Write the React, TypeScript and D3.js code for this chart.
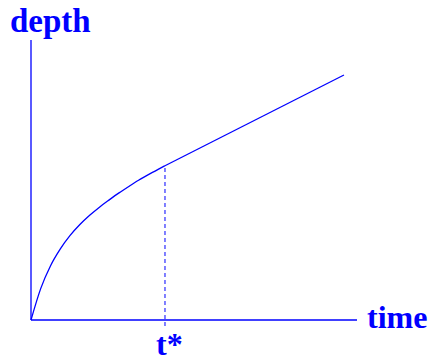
import React from "react";
import * as d3 from "d3";

const curveTime = [0, 0.3, 0.6, 0.9, 1.2, 1.5, 1.8, 2.1, 2.4, 2.7, 3.0, 3.3, 3.6, 3.9, 4.11];
const curveDepth = [0, 1.13, 1.94, 2.54, 3.02, 3.41, 3.74, 4.03, 4.29, 4.54, 4.77, 4.99, 5.19, 5.38, 5.51];
const lineTime = [4.11, 9.6];
const lineDepth = [5.51, 8.75];
const tStar = 4.11;
const tStarDepth = 5.51;
const labels = { x: "time", y: "depth", t: "t*" };

const W = 432, H = 356;
const BLUE = "#0000ff";
const FONT = "'Liberation Serif', 'Times New Roman', serif";

export default function App() {
  const x = d3.scaleLinear().domain([0, 10]).range([31, 357]);
  const y = d3.scaleLinear().domain([0, 10]).range([320, 40]);
  const curvePts: [number, number][] = curveTime.map((t, i) => [t, curveDepth[i]]);
  const linePts: [number, number][] = lineTime.map((t, i) => [t, lineDepth[i]]);
  const gen = d3.line<[number, number]>().x(d => x(d[0])).y(d => y(d[1])).curve(d3.curveMonotoneX);
  const lin = d3.line<[number, number]>().x(d => x(d[0])).y(d => y(d[1]));
  return (
    <svg width={W} height={H} style={{ position: "absolute", left: 0, top: 0 }}>
      <rect width={W} height={H} fill="#fff" />
      <line x1={x(0)} x2={x(0)} y1={y(0)} y2={y(10)} stroke={BLUE} strokeWidth={1.3} />
      <line x1={x(0)} x2={x(10)} y1={y(0)} y2={y(0)} stroke={BLUE} strokeWidth={1.3} />
      <path d={gen(curvePts) || ""} fill="none" stroke={BLUE} strokeWidth={1.3} />
      <path d={lin(linePts) || ""} fill="none" stroke={BLUE} strokeWidth={1.3} />
      <line x1={x(tStar)} x2={x(tStar)} y1={y(0) + 6} y2={y(tStarDepth)} stroke={BLUE} strokeWidth={1} strokeDasharray="4,3" />
      <text x={10} y={32} fill={BLUE} fontFamily={FONT} fontWeight="bold" fontSize={33}>{labels.y}</text>
      <text x={367} y={328} fill={BLUE} fontFamily={FONT} fontWeight="bold" fontSize={32}>{labels.x}</text>
      <text x={156} y={355} fill={BLUE} fontFamily={FONT} fontWeight="bold" fontSize={32}>{labels.t}</text>
    </svg>
  );
}
